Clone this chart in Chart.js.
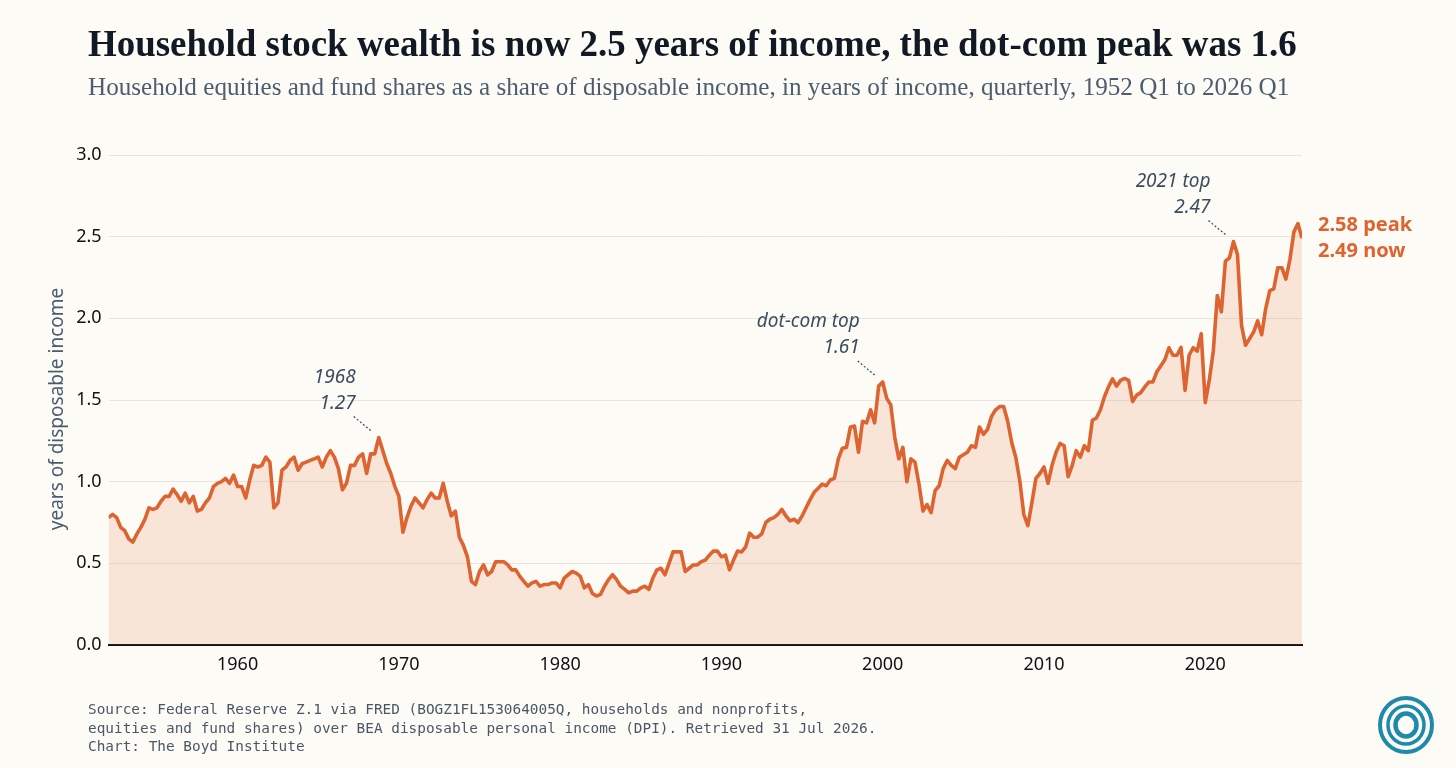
<!DOCTYPE html>
<html>
<head>
<meta charset="utf-8">
<script src="https://cdn.jsdelivr.net/npm/chart.js@4.4.1/dist/chart.umd.min.js"></script>
<style>
  html, body { margin: 0; padding: 0; background: #fdfbf6; }
  #wrap { width: 1456px; height: 768px; position: relative; }
</style>
</head>
<body>
<div id="wrap"><canvas id="chart"></canvas></div>
<script>
// Household equities / disposable income, years of income, quarterly from 1952 Q1
const startYear = 1952;
const ratio1950s = [0.78, 0.80, 0.78, 0.72, 0.70, 0.65, 0.63, 0.68, 0.72, 0.77, 0.84, 0.83, 0.84, 0.88, 0.91, 0.91,
  0.955, 0.92, 0.88, 0.93, 0.87, 0.91, 0.82, 0.83, 0.87, 0.90, 0.97, 0.99, 1.00, 1.02, 0.99, 1.04];
const ratio1960s = [0.97, 0.97, 0.90, 1.01, 1.10, 1.09, 1.10, 1.15, 1.12, 0.84, 0.87, 1.07, 1.09, 1.13, 1.15, 1.07,
  1.11, 1.12, 1.13, 1.14, 1.15, 1.09, 1.15, 1.19, 1.15, 1.08, 0.95, 0.99, 1.10, 1.10, 1.15, 1.17,
  1.05, 1.17, 1.17, 1.27, 1.19, 1.11, 1.05, 0.97];
const ratio1970s = [0.91, 0.69, 0.78, 0.85, 0.90, 0.87, 0.84, 0.89, 0.93, 0.90, 0.90, 0.99, 0.88, 0.79, 0.82, 0.66,
  0.61, 0.54, 0.39, 0.37, 0.45, 0.49, 0.43, 0.45, 0.51, 0.51, 0.51, 0.49, 0.46, 0.46, 0.42, 0.39,
  0.36, 0.38, 0.39, 0.36, 0.37, 0.37, 0.38, 0.38];
const ratio1980s = [0.35, 0.41, 0.43, 0.45, 0.44, 0.42, 0.35, 0.37, 0.315, 0.30, 0.31, 0.36, 0.40, 0.43, 0.40, 0.36,
  0.34, 0.32, 0.33, 0.33, 0.35, 0.36, 0.34, 0.41, 0.46, 0.47, 0.43, 0.50, 0.57, 0.57, 0.57, 0.45,
  0.47, 0.49, 0.49, 0.51, 0.52, 0.55, 0.575, 0.575];
const ratio1990s = [0.54, 0.55, 0.46, 0.52, 0.575, 0.57, 0.60, 0.685, 0.66, 0.66, 0.68, 0.75, 0.77, 0.78, 0.80, 0.83,
  0.79, 0.76, 0.77, 0.75, 0.79, 0.84, 0.89, 0.935, 0.96, 0.985, 0.975, 1.01, 1.02, 1.14, 1.205, 1.21,
  1.335, 1.34, 1.18, 1.37, 1.36, 1.44, 1.36, 1.585];
const ratio2000s = [1.61, 1.51, 1.47, 1.27, 1.14, 1.21, 1.00, 1.14, 1.12, 0.985, 0.82, 0.86, 0.81, 0.945, 0.975, 1.08,
  1.13, 1.10, 1.08, 1.15, 1.165, 1.18, 1.22, 1.21, 1.335, 1.29, 1.32, 1.40, 1.44, 1.46, 1.46, 1.37,
  1.24, 1.15, 1.006, 0.80, 0.73, 0.87, 1.02, 1.05];
const ratio2010s = [1.09, 0.99, 1.10, 1.18, 1.234, 1.22, 1.03, 1.10, 1.19, 1.15, 1.22, 1.19, 1.376, 1.39, 1.44, 1.52,
  1.58, 1.63, 1.585, 1.62, 1.632, 1.62, 1.49, 1.53, 1.545, 1.58, 1.61, 1.61, 1.673, 1.71, 1.748, 1.82,
  1.774, 1.774, 1.822, 1.559, 1.774, 1.82, 1.80, 1.905];
const ratio2020s = [1.484, 1.62, 1.80, 2.14, 2.04, 2.35, 2.37, 2.47, 2.39, 1.957, 1.835, 1.876, 1.916, 1.985, 1.90, 2.06,
  2.17, 2.18, 2.31, 2.31, 2.24, 2.36, 2.53, 2.58, 2.49];

const xTicks = [1960, 1970, 1980, 1990, 2000, 2010, 2020];
const yTicks = [0, 0.5, 1.0, 1.5, 2.0, 2.5, 3.0];

// callouts: quarter label and text lines
const callouts = [
  { quarter: '1968 Q4', lines: ['1968', '1.27'] },
  { quarter: '2000 Q1', lines: ['dot-com top', '1.61'] },
  { quarter: '2021 Q4', lines: ['2021 top', '2.47'] }
];
const endLabels = ['2.58 peak', '2.49 now'];

const title = 'Household stock wealth is now 2.5 years of income, the dot-com peak was 1.6';
const subtitle = 'Household equities and fund shares as a share of disposable income, in years of income, quarterly, 1952 Q1 to 2026 Q1';
const sourceLines = [
  'Source: Federal Reserve Z.1 via FRED (BOGZ1FL153064005Q, households and nonprofits,',
  'equities and fund shares) over BEA disposable personal income (DPI). Retrieved 31 Jul 2026.',
  'Chart: The Boyd Institute'
];

const ratio = [].concat(ratio1950s, ratio1960s, ratio1970s, ratio1980s, ratio1990s, ratio2000s, ratio2010s, ratio2020s);
const quarterLabels = ratio.map((v, i) => (startYear + Math.floor(i / 4)) + ' Q' + (i % 4 + 1));
const points = ratio.map((v, i) => ({ x: startYear + i / 4, y: v }));

const ORANGE = '#dd6430';
const INK = '#3b4c5e';
const SANS = "'Noto Sans', sans-serif";

function fitFont(ctx, text, weight, family, width, base) {
  ctx.font = weight + ' ' + base + 'px ' + family;
  const w = ctx.measureText(text).width;
  return weight + ' ' + (base * width / w).toFixed(2) + 'px ' + family;
}

const decorations = {
  id: 'decorations',
  beforeDraw(chart) {
    const ctx = chart.ctx;
    ctx.save();
    ctx.fillStyle = '#fdfbf6';
    ctx.fillRect(0, 0, chart.width, chart.height);
    ctx.restore();
  },
  afterDatasetsDraw(chart) {
    const ctx = chart.ctx;
    const xs = chart.scales.x, ys = chart.scales.y;
    ctx.save();

    // callouts with dotted leaders
    callouts.forEach(c => {
      const idx = quarterLabels.indexOf(c.quarter);
      const px = xs.getPixelForValue(points[idx].x);
      const py = ys.getPixelForValue(points[idx].y);
      ctx.font = 'italic 19px ' + SANS;
      ctx.fillStyle = INK;
      ctx.textAlign = 'right';
      ctx.textBaseline = 'alphabetic';
      ctx.fillText(c.lines[0], px - 23, py - 55);
      ctx.fillText(c.lines[1], px - 23, py - 29);
      ctx.strokeStyle = INK;
      ctx.lineWidth = 1.2;
      ctx.setLineDash([2, 2]);
      ctx.beginPath();
      ctx.moveTo(px - 25, py - 21);
      ctx.lineTo(px - 8, py - 7);
      ctx.stroke();
      ctx.setLineDash([]);
    });

    // end labels
    const last = points[points.length - 1];
    const lx = xs.getPixelForValue(last.x) + 16;
    const ly = ys.getPixelForValue(last.y);
    ctx.font = 'bold 20px ' + SANS;
    ctx.fillStyle = ORANGE;
    ctx.textAlign = 'left';
    ctx.fillText(endLabels[0], lx, ly - 7);
    ctx.fillText(endLabels[1], lx, ly + 19);

    // y axis title
    ctx.save();
    ctx.translate(63, (chart.chartArea.top + chart.chartArea.bottom) / 2 + 9);
    ctx.rotate(-Math.PI / 2);
    ctx.font = '19px ' + SANS;
    ctx.fillStyle = '#4a5d6f';
    ctx.textAlign = 'center';
    ctx.fillText('years of disposable income', 0, 0);
    ctx.restore();

    // title + subtitle
    ctx.textAlign = 'left';
    ctx.fillStyle = '#111a24';
    ctx.font = fitFont(ctx, title, 'bold', "'Liberation Serif', serif", 1209, 32);
    ctx.fillText(title, 88, 56);
    ctx.fillStyle = '#4b5d6f';
    ctx.font = fitFont(ctx, subtitle, 'normal', "'Liberation Serif', serif", 1202, 21);
    ctx.fillText(subtitle, 88, 95);

    // source
    ctx.fillStyle = '#4a5866';
    ctx.font = "14.4px 'DejaVu Sans Mono', monospace";
    sourceLines.forEach((s, i) => ctx.fillText(s, 88, 714 + i * 18.5));

    // logo rings
    const cx = 1406, cy = 725;
    ctx.strokeStyle = '#1d8aa9';
    [[26, 4], [18, 3.5], [10.5, 4.5]].forEach(r => {
      ctx.lineWidth = r[1];
      ctx.beginPath();
      ctx.ellipse(cx, cy, r[0], r[0] + 1, 0, 0, Math.PI * 2);
      ctx.stroke();
    });
    ctx.restore();
  }
};

new Chart(document.getElementById('chart'), {
  type: 'line',
  data: {
    datasets: [{
      label: 'equities / DPI',
      data: points,
      borderColor: ORANGE,
      borderWidth: 3.6,
      backgroundColor: 'rgba(224,106,46,0.15)',
      fill: 'origin',
      pointRadius: 0,
      tension: 0,
      borderJoinStyle: 'round'
    }]
  },
  options: {
    responsive: true,
    maintainAspectRatio: false,
    animation: false,
    layout: { padding: { top: 155, right: 154, bottom: 0, left: 0 } },
    plugins: { legend: { display: false }, tooltip: { enabled: false } },
    scales: {
      x: {
        type: 'linear',
        min: startYear,
        max: 2026,
        afterBuildTicks: s => { s.ticks = xTicks.map(v => ({ value: v })); },
        afterFit: s => { s.height = 123; },
        grid: { display: true, color: 'rgba(0,0,0,0)', drawTicks: false },
        border: { display: true, color: '#111', width: 2 },
        ticks: {
          autoSkip: false,
          maxRotation: 0,
          padding: 9,
          color: '#111',
          font: { family: SANS, size: 18 },
          callback: v => String(v)
        }
      },
      y: {
        min: 0,
        max: 3,
        afterBuildTicks: s => { s.ticks = yTicks.map(v => ({ value: v })); },
        afterFit: s => { s.width = 108.6; },
        grid: { color: '#e8e5df', lineWidth: 1, drawTicks: false },
        border: { display: false },
        ticks: {
          padding: 7,
          color: '#111',
          font: { family: SANS, size: 18 },
          callback: v => v.toFixed(1)
        }
      }
    }
  },
  plugins: [decorations]
});
</script>
</body>
</html>
